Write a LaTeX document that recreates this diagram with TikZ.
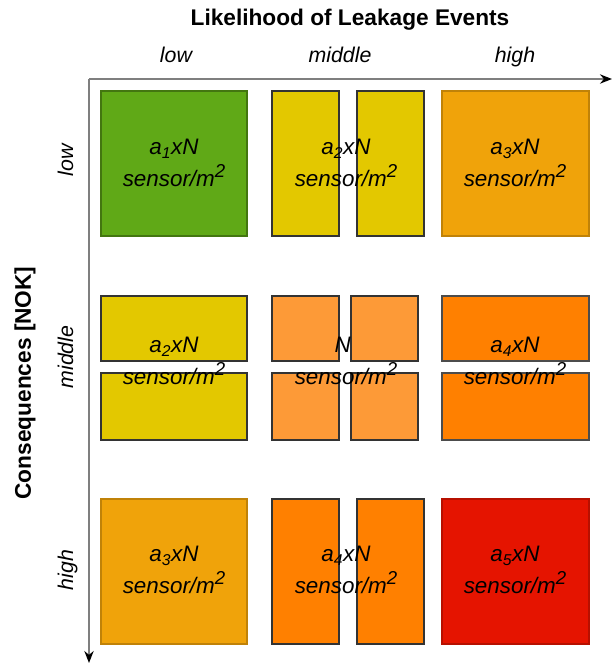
\documentclass[tikz,border=0pt]{standalone}
\usepackage{fontspec}
\setmainfont{Liberation Sans}
\usetikzlibrary{arrows.meta}
\definecolor{cgreen}{HTML}{60A917}
\definecolor{cyellow}{HTML}{E3C800}
\definecolor{cgold}{HTML}{F0A30A}
\definecolor{clight}{HTML}{FD9A37}
\definecolor{corange}{HTML}{FF8000}
\definecolor{cred}{HTML}{E51400}
\definecolor{caxis}{HTML}{7F7F7F}
\tikzset{
  cell/.style={line width=0.9pt, draw=#1},
  celltext/.style={font=\fontsize{16.8}{24}\selectfont\itshape, align=center, inner sep=0pt},
  axlabel/.style={font=\fontsize{16}{19}\selectfont\itshape, inner sep=0pt, anchor=base},
  title/.style={font=\fontsize{17}{20}\selectfont\bfseries, inner sep=0pt},
  axisline/.style={draw=caxis, line width=1.3pt, -{Stealth[black,length=9pt,width=7pt]}}
}
\newcommand{\sqm}{sensor/m\raisebox{0.42em}{\fontsize{14}{14}\selectfont 2}}
\newcommand{\cellstr}[1]{a\textsubscript{#1}xN\\\sqm}
\begin{document}
\begin{tikzpicture}[x=0.75pt,y=-0.75pt]
\useasboundingbox (0,0) rectangle (613,665);
% axes
\coordinate (o) at (89,79);
\coordinate (xe) at (612,79);
\coordinate (ye) at (89,663);
\draw[axisline] (o) -- (xe);
\draw[axisline] (o) -- (ye);
% titles
\node[title] (tx) at (350,20) {Likelihood of Leakage Events};
\node[title, rotate=90] (ty) at (25,383) {Consequences [NOK]};
\node[axlabel] (cl) at (176,62) {low};
\node[axlabel] (cm) at (340,62) {middle};
\node[axlabel] (ch) at (515,62) {high};
\node[axlabel, rotate=90] (rl) at (73,160) {low};
\node[axlabel, rotate=90] (rm) at (73,357) {middle};
\node[axlabel, rotate=90] (rh) at (73,570) {high};
% row 1
\draw[cell=cgreen!70!black, fill=cgreen] (101,91) rectangle (247,236);
\draw[cell=black!80, fill=cyellow] (272,91) rectangle (339,236);
\draw[cell=black!80, fill=cyellow] (357,91) rectangle (424,236);
\draw[cell=cgold!80!black, fill=cgold] (442,91) rectangle (589,236);
\node[celltext] (t11) at (174,163) {\cellstr{1}};
\node[celltext] (t12) at (346,163) {\cellstr{2}};
\node[celltext] (t13) at (515,163) {\cellstr{3}};
% row 2
\draw[cell=black!80, fill=cyellow] (101,296) rectangle (247,361);
\draw[cell=black!80, fill=cyellow] (101,373) rectangle (247,440);
\draw[cell=black!80, fill=clight] (272,373) rectangle (339,440);
\draw[cell=black!80, fill=clight] (351,373) rectangle (418,440);
\draw[cell=black!70, fill=corange] (442,296) rectangle (589,361);
\draw[cell=black!70, fill=corange] (442,373) rectangle (589,440);
\node[celltext] (t21) at (174,361) {\cellstr{2}};
\draw[cell=black!80, fill=clight] (272,296) rectangle (339,361);
\draw[cell=black!80, fill=clight] (351,296) rectangle (418,361);
\node[celltext] (t22) at (346,361) {\hspace*{-5pt}N\\\sqm};
\node[celltext] (t23) at (515,361) {\cellstr{4}};
% row 3
\draw[cell=cgold!80!black, fill=cgold] (101,499) rectangle (247,644);
\draw[cell=black!80, fill=corange] (272,499) rectangle (339,644);
\draw[cell=black!80, fill=corange] (357,499) rectangle (424,644);
\draw[cell=cred!80!black, fill=cred] (442,499) rectangle (589,644);
\node[celltext] (t31) at (174,570) {\cellstr{3}};
\node[celltext] (t32) at (346,570) {\cellstr{4}};
\node[celltext] (t33) at (515,570) {\cellstr{5}};
\end{tikzpicture}
\end{document}
